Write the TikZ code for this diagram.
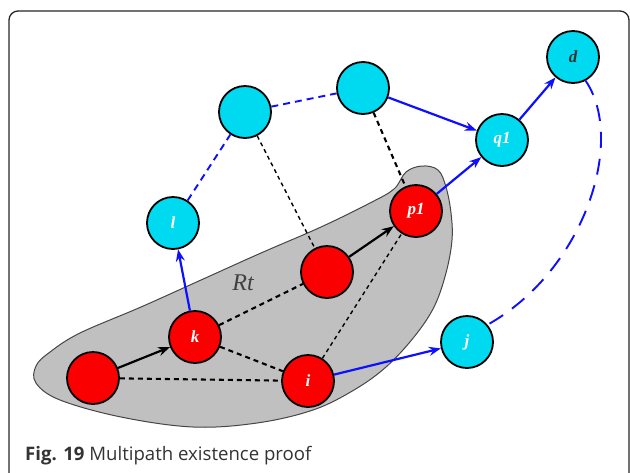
\documentclass[tikz,border=0pt]{standalone}
\usepackage{fontspec}
\setmainfont{Liberation Serif}
\newfontfamily\capfont{Open Sans}
\usetikzlibrary{arrows.meta}
\definecolor{nred}{RGB}{250,0,0}
\definecolor{ncyan}{RGB}{0,218,240}
\definecolor{blobgray}{RGB}{192,192,192}
\definecolor{blobline}{RGB}{70,70,70}
\definecolor{pblue}{RGB}{15,15,255}
\begin{document}
\begin{tikzpicture}[x=1pt,y=-1pt,
  rnode/.style={circle, draw=black, line width=1.8pt, fill=nred, minimum size=52pt, inner sep=0pt,
    font=\fontsize{17}{17}\selectfont\bfseries\itshape, text=white},
  cnode/.style={rnode, fill=ncyan},
  tip/.style={-{Stealth[length=12pt,width=9pt,inset=4pt]}},
  blackarrow/.style={tip, line width=2.2pt, draw=black},
  bluearrow/.style={tip, line width=2.2pt, draw=pblue},
  blackdash/.style={draw=black, line width=2.1pt, dash pattern=on 5pt off 4pt},
  blackthin/.style={draw=black, line width=1.4pt, dash pattern=on 4pt off 3.5pt},
  bluedash/.style={draw=pblue, line width=1.9pt, dash pattern=on 7pt off 5pt},
  bluelong/.style={draw=pblue, line width=1.9pt, dash pattern=on 16pt off 11pt},
  frame/.style={draw=black!85, line width=1.3pt, rounded corners=9pt}
]
\useasboundingbox (0,0) rectangle (630,472);
\begin{scope}
\clip (0,0) rectangle (630,472);
\draw[frame] (9,11) rectangle (629,482);
\end{scope}

% blob
\draw[fill=blobgray, draw=blobline, line width=1pt]
  plot[smooth cycle, tension=0.6] coordinates {
  (406,172) (422,166) (438,170) (446,187) (451,213) (452,240) (446,273) (434,307)
  (414,337) (386,367) (354,390) (313,410) (257,423) (193,427) (121,417) (60,400)
  (36,383) (36,366) (50,352) (80,333) (141,307) (201,280) (261,253) (321,227)
  (370,203) (394,189)};
\node[font=\fontsize{24}{24}\selectfont\itshape, text=black!75] (rt) at (243,283) {Rt};

% nodes
\node[rnode] (a) at (93,378) {};
\node[rnode] (k) at (195,337) {k};
\node[rnode] (i) at (308,381) {i};
\node[rnode] (m) at (327,272) {};
\node[rnode] (p1) at (416,211) {p1};
\node[cnode] (l) at (173,223) {l};
\node[cnode] (c1) at (245,112) {};
\node[cnode] (c2) at (363,88) {};
\node[cnode] (q1) at (502,140) {q1};
\node[cnode, text=black!80] (d) at (573,57) {d};
\node[cnode] (j) at (467,342) {j};

% black edges
\draw[blackdash] (a) -- (i);
\draw[blackdash] (k) -- (i);
\draw[blackdash] (k) -- (m);
\draw[blackthin] (i) -- (p1);
\draw[blackthin] (c1) -- (m);
\draw[blackdash] (c2) -- (p1);
\draw[blackarrow] (a) -- (k);
\draw[blackarrow] (m) -- (p1);

% blue edges
\draw[bluearrow] (k) -- (l);
\draw[bluedash] (l) -- (c1);
\draw[bluedash] (c1) -- (c2);
\draw[bluearrow] (c2) -- (q1);
\draw[bluearrow] (p1) -- (q1);
\draw[bluearrow] (q1) -- (d);
\draw[bluearrow] (i) -- (j);
\draw[bluelong] (d.-62) .. controls (626,140) and (585,270) .. (j.40);

% caption
\node[anchor=base west, inner sep=0pt, font=\capfont\fontsize{18.6}{18.6}\selectfont, text=black!80] (cap) at (25,460)
  {\textbf{Fig. 19} Multipath existence proof};
\end{tikzpicture}
\end{document}
